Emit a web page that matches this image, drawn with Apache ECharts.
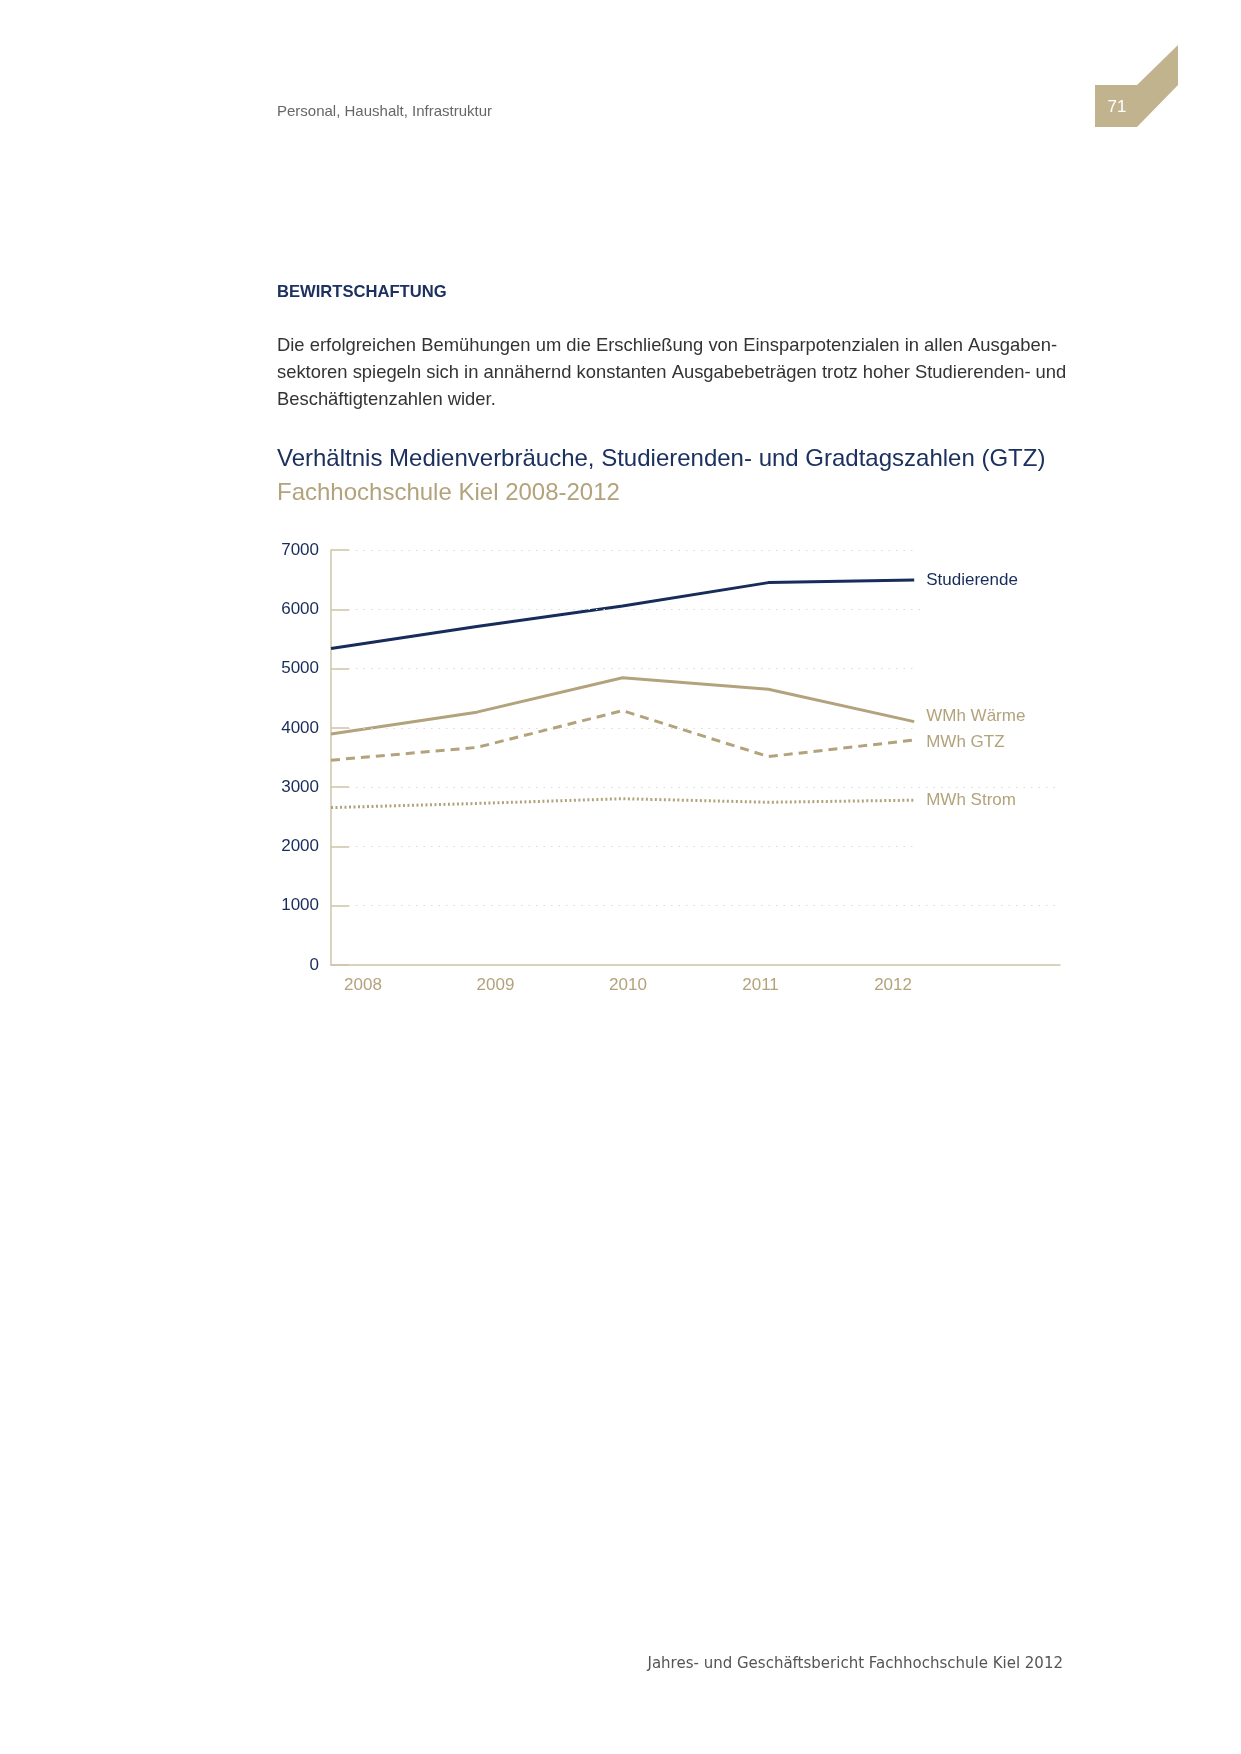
<!DOCTYPE html>
<html><head><meta charset="utf-8">
<script src="https://cdn.jsdelivr.net/npm/echarts@6/dist/echarts.min.js"></script>
<style>html,body{margin:0;padding:0;background:#fff}#c{width:1241px;height:1754px}</style>
</head><body><div id="c"></div>
<script>
// ---- data ----
const years = ['2008', '2009', '2010', '2011', '2012'];
const studierende = [5340, 5710, 6055, 6450, 6495];
const waermeMWh = [3895, 4265, 4845, 4650, 4105];
const gtzMWh = [3455, 3670, 4290, 3515, 3795];
const stromMWh = [2655, 2725, 2805, 2745, 2780];
const yTicks = [0, 1000, 2000, 3000, 4000, 5000, 6000, 7000];
const seriesNames = ['Studierende', 'WMh Wärme', 'MWh GTZ', 'MWh Strom'];

const NAVY = '#172c5a';
const TAN = '#b3a37c';
const TAN_LINE = '#cfc4a8';
const FONT = 'Liberation Sans, Arial, sans-serif';

const pts = arr => arr.map((v, i) => [i, v]);
const gridEndX = {1000: 5.0, 2000: 4.03, 3000: 5.0, 4000: 4.03, 5000: 4.02, 6000: 4.07, 7000: 4.02};

const chart = echarts.init(document.getElementById('c'), null, {renderer: 'canvas'});
const option = {
  animation: false,
  backgroundColor: '#ffffff',
  textStyle: {fontFamily: FONT},
  grid: {left: 331, right: 181, top: 550, bottom: 789, containLabel: false},
  xAxis: [
    {type: 'value', min: 0, max: 5,
     axisLine: {show: true, lineStyle: {color: TAN_LINE, width: 1.5}},
     axisTick: {show: false}, axisLabel: {show: false}, splitLine: {show: false}},
    {type: 'value', min: -0.2415, max: 5.26, position: 'bottom',
     axisLine: {show: false}, axisTick: {show: false}, splitLine: {show: false},
     axisLabel: {customValues: [0, 1, 2, 3, 4], formatter: v => years[Math.round(v)],
                 color: TAN, fontSize: 17, fontFamily: FONT, margin: 12}}
  ],
  yAxis: {
    type: 'value', min: yTicks[0], max: yTicks[yTicks.length - 1], interval: 1000,
    axisLine: {show: true, lineStyle: {color: TAN_LINE, width: 1.5}},
    axisTick: {show: true, inside: true, length: 18, lineStyle: {color: TAN_LINE, width: 1.5}},
    axisLabel: {color: NAVY, fontSize: 17, fontFamily: FONT, margin: 12, formatter: v => String(v)},
    splitLine: {show: false}
  },
  series: [
    {name: seriesNames[0], type: 'line', data: pts(studierende), symbol: 'none',
     lineStyle: {color: NAVY, width: 3},
     endLabel: {show: true, formatter: '{a}', color: NAVY, fontSize: 17, fontFamily: FONT, distance: 12}},
    {name: seriesNames[1], type: 'line', data: pts(waermeMWh), symbol: 'none',
     lineStyle: {color: TAN, width: 3},
     endLabel: {show: true, formatter: '{a}', color: TAN, fontSize: 17, fontFamily: FONT, distance: 12, offset: [0, -5]}},
    {name: seriesNames[2], type: 'line', data: pts(gtzMWh), symbol: 'none',
     lineStyle: {color: TAN, width: 3, type: [9, 6]},
     endLabel: {show: true, formatter: '{a}', color: TAN, fontSize: 17, fontFamily: FONT, distance: 12, offset: [0, 2]}},
    {name: seriesNames[3], type: 'line', data: pts(stromMWh), symbol: 'none',
     lineStyle: {color: TAN, width: 3, type: [2, 2.5]},
     endLabel: {show: true, formatter: '{a}', color: TAN, fontSize: 17, fontFamily: FONT, distance: 12},
     markLine: {silent: true, symbol: ['none', 'none'], label: {show: false},
       lineStyle: {color: '#dadada', width: 1, type: [1.5, 6]},
       data: yTicks.filter(v => v > 0).map(v => [{coord: [0.12, v]}, {coord: [gridEndX[v], v]}])}}
  ],
  graphic: [
    {type: 'text', x: 277, y: 112, style: {text: 'Personal, Haushalt, Infrastruktur', fill: '#666666', font: '15px ' + FONT, verticalAlign: 'middle'}},
    {type: 'polygon', shape: {points: [[1095, 85], [1137, 85], [1178, 45], [1178, 85], [1137, 127], [1095, 127]]}, style: {fill: '#c2b38f'}},
    {type: 'text', x: 1117, y: 107, style: {text: '71', fill: '#ffffff', font: '17px ' + FONT, align: 'center', verticalAlign: 'middle'}},
    {type: 'text', x: 277, y: 292, style: {text: 'BEWIRTSCHAFTUNG', fill: '#1c3160', font: 'bold 16.6px ' + FONT, verticalAlign: 'middle'}},
    {type: 'text', x: 277, y: 346, style: {text: 'Die erfolgreichen Bemühungen um die Erschließung von Einsparpotenzialen in allen Ausgaben-', fill: '#333333', font: '18.4px ' + FONT, verticalAlign: 'middle'}},
    {type: 'text', x: 277, y: 373, style: {text: 'sektoren spiegeln sich in annähernd konstanten Ausgabebeträgen trotz hoher Studierenden- und', fill: '#333333', font: '18.4px ' + FONT, verticalAlign: 'middle'}},
    {type: 'text', x: 277, y: 400, style: {text: 'Beschäftigtenzahlen wider.', fill: '#333333', font: '18.4px ' + FONT, verticalAlign: 'middle'}},
    {type: 'text', x: 277, y: 459, style: {text: 'Verhältnis Medienverbräuche, Studierenden- und Gradtagszahlen (GTZ)', fill: '#1c3160', font: '24px ' + FONT, verticalAlign: 'middle'}},
    {type: 'text', x: 277, y: 493, style: {text: 'Fachhochschule Kiel 2008-2012', fill: TAN, font: '24px ' + FONT, verticalAlign: 'middle'}},
    {type: 'text', x: 1063, y: 1664, style: {text: 'Jahres- und Geschäftsbericht Fachhochschule Kiel 2012', fill: '#555555', font: '15px DejaVu Sans, ' + FONT, align: 'right', verticalAlign: 'middle'}}
  ]
};
chart.setOption(option);
</script></body></html>
